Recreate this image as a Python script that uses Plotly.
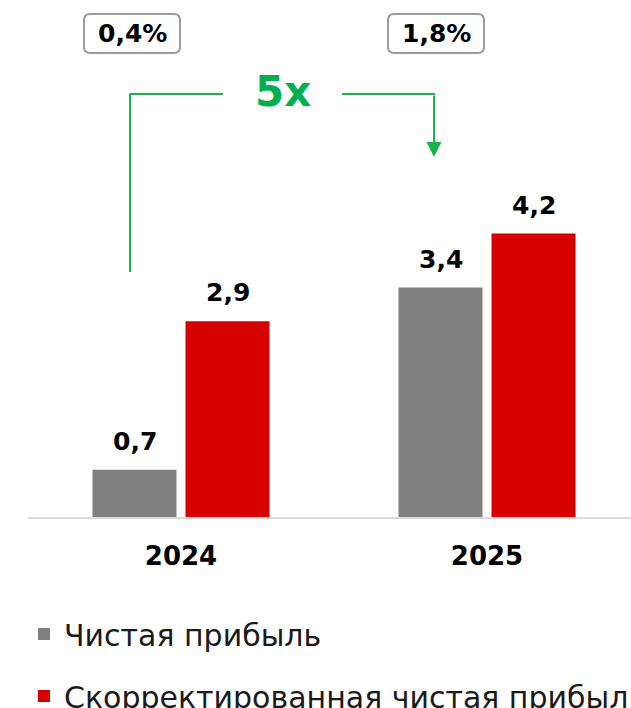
import plotly.graph_objects as go

years = ["2024", "2025"]
net_profit = [0.7, 3.4]
adj_net_profit = [2.9, 4.2]
margins = ["0,4%", "1,8%"]
multiplier = "5x"
series_names = ["Чистая прибыль", "Скорректированная чистая прибыль"]

GRAY = "#808080"
RED = "#d60000"
GREEN = "#1db14b"
FONT = "DejaVu Sans"

W, H = 631, 708
PL, PT, PW, PH = 28, 0, 603, 517


def px(xp):
    return (xp - PL) / PW


def py(yp):
    return (PT + PH - yp) / PH


def fmt(v):
    return f"{v:.1f}".replace(".", ",")


fig = go.Figure()
fig.add_trace(go.Bar(x=years, y=net_profit, name=series_names[0],
                     marker=dict(color=GRAY, line=dict(width=0)), legend="legend"))
fig.add_trace(go.Bar(x=years, y=adj_net_profit, name=series_names[1],
                     marker=dict(color=RED, line=dict(width=0)), legend="legend2"))

annotations = []
shapes = []
# value labels
for i, yr in enumerate(years):
    for vals, shift in ((net_profit, -46.5), (adj_net_profit, 46.5)):
        annotations.append(dict(x=i, y=vals[i], xref="x", yref="y", xshift=shift, yshift=12,
                                text=f"<b>{fmt(vals[i])}</b>", showarrow=False,
                                yanchor="bottom", xanchor="center",
                                font=dict(family=FONT, size=25, color="#000000")))

# margin boxes
for i, (x0, x1) in enumerate(((84, 180), (388, 484))):
    y0, y1, r = 14, 53, 6
    X0, X1 = px(x0), px(x1)
    Y0, Y1 = py(y0), py(y1)
    rx, ry = r / PW, r / PH
    path = (f"M {X0+rx},{Y0} L {X1-rx},{Y0} Q {X1},{Y0} {X1},{Y0-ry} "
            f"L {X1},{Y1+ry} Q {X1},{Y1} {X1-rx},{Y1} L {X0+rx},{Y1} "
            f"Q {X0},{Y1} {X0},{Y1+ry} L {X0},{Y0-ry} Q {X0},{Y0} {X0+rx},{Y0} Z")
    shapes.append(dict(type="path", path=path, xref="paper", yref="paper",
                       line=dict(color="#9a9ca0", width=2), fillcolor="white"))
    annotations.append(dict(x=px((x0 + x1) / 2), y=py((y0 + y1) / 2), xref="paper", yref="paper",
                            text=f"<b>{margins[i]}</b>", showarrow=False,
                            xanchor="center", yanchor="middle",
                            font=dict(family=FONT, size=25, color="#000000")))

# green growth connector
shapes.append(dict(type="line", xref="paper", yref="paper", x0=px(130), x1=px(130),
                   y0=py(272), y1=py(94), line=dict(color=GREEN, width=2)))
shapes.append(dict(type="line", xref="paper", yref="paper", x0=px(130), x1=px(223),
                   y0=py(94), y1=py(94), line=dict(color=GREEN, width=2)))
shapes.append(dict(type="line", xref="paper", yref="paper", x0=px(342), x1=px(435),
                   y0=py(94), y1=py(94), line=dict(color=GREEN, width=2)))
annotations.append(dict(x=px(434), y=py(157), xref="paper", yref="paper", ax=0, ay=-63,
                        axref="pixel", ayref="pixel", text="", showarrow=True,
                        arrowhead=2, arrowsize=1.5, arrowwidth=2, arrowcolor=GREEN))
annotations.append(dict(x=px(283), y=py(92), xref="paper", yref="paper",
                        text=f"<b>{multiplier}</b>", showarrow=False,
                        xanchor="center", yanchor="middle",
                        font=dict(family=FONT, size=42, color="#00b050")))

fig.update_layout(
    width=W, height=H,
    margin=dict(l=PL, r=W - PL - PW, t=PT, b=H - PT - PH, pad=0, autoexpand=False),
    paper_bgcolor="white", plot_bgcolor="white",
    barmode="group", bargap=0.392, bargroupgap=0.0968,
    font=dict(family=FONT, color="#1a1a1a"),
    xaxis=dict(type="category", range=[-0.5, -0.5 + PW / 306], showline=True,
               linecolor="#d9d9d9", linewidth=2, showgrid=False, ticks="",
               tickvals=years, ticktext=[f"<b>{y}</b>" for y in years],
               tickfont=dict(family=FONT, size=26, color="#000000"),
               ticklabelstandoff=15, fixedrange=True),
    yaxis=dict(range=[0, PH / 67.5], visible=False, showgrid=False, zeroline=False,
               fixedrange=True),
    showlegend=True,
    legend=dict(x=px(24), y=py(608), xanchor="left", yanchor="top",
                font=dict(family=FONT, size=30, color="#1a1a1a"),
                bgcolor="rgba(0,0,0,0)", itemclick=False),
    legend2=dict(x=px(24), y=py(670), xanchor="left", yanchor="top",
                 font=dict(family=FONT, size=30, color="#1a1a1a"),
                 bgcolor="rgba(0,0,0,0)", itemclick=False),
    annotations=annotations,
    shapes=shapes,
)

fig.write_html("out.html", config={"displayModeBar": False},
               post_script="document.body.style.margin='0';")
